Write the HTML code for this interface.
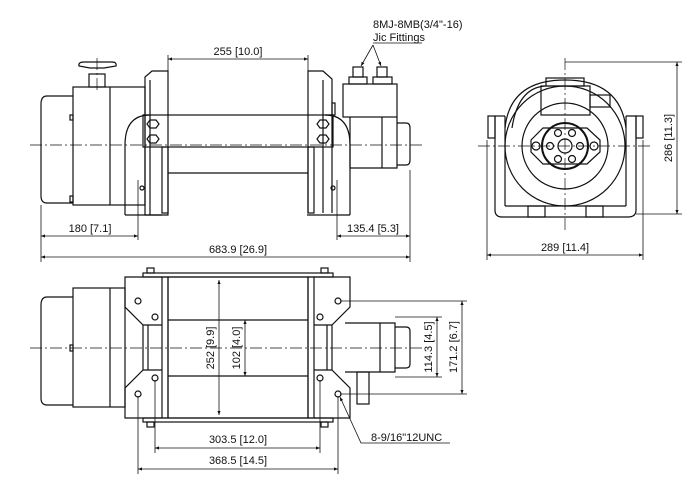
<!DOCTYPE html>
<html><head><meta charset="utf-8"><style>
html,body{margin:0;padding:0;background:#fff;}
svg{display:block;}
text{font-family:"Liberation Sans",Arial,sans-serif;font-size:11px;fill:#111;}
</style></head><body>
<svg width="700" height="495" viewBox="0 0 700 495" xmlns="http://www.w3.org/2000/svg">
<defs>
<marker id="a" viewBox="0 0 10 10" refX="10" refY="5" markerWidth="7" markerHeight="5" orient="auto-start-reverse"><path d="M0,1 L10,5 L0,9 z" fill="#111"/></marker>
</defs>
<g fill="none" stroke="#111" stroke-width="1.2">
<!-- ===== SIDE VIEW ===== -->
<path d="M73,96 L47,96 Q41,96 41,104 L41,196 Q41,203 47,203 L73,203"/>
<rect x="73" y="87" width="72" height="118"/>
<line x1="110" y1="87" x2="110" y2="205"/>
<rect x="70" y="115" width="3" height="5"/><rect x="70" y="196" width="3" height="6"/>
<rect x="89" y="74" width="16" height="13"/>
<path d="M79,66 Q78,62 84,62 L112,62 Q117,62 116,66 L104,68 L90,68 Z"/>
<path d="M145,215 L145,77 L152,71 L168,71 L168,215 Z"/>
<line x1="150" y1="80" x2="150" y2="215"/>
<path d="M308,213 L308,71 L323,71 L332,79 L332,213"/>
<line x1="323" y1="80" x2="323" y2="213"/>
<rect x="332" y="103" width="3" height="12"/>
<line x1="168" y1="173" x2="308" y2="173"/>
<rect x="162" y="147" width="6" height="66"/><rect x="308" y="147" width="6" height="66"/>
<path d="M125,215 L125,145 Q125,115 150,115 L143,115"/>
<path d="M125,215 L162,215"/>
<path d="M350,215 L350,145 Q350,115 325,115 L333,115"/>
<path d="M307,215 L350,215"/>
<rect x="143" y="115" width="190" height="32"/>
<polygon points="147,124 150,120 156,120 159,124 156,128 150,128"/>
<polygon points="147,139 150,135 156,135 159,139 156,143 150,143"/>
<polygon points="317,124 320,120 326,120 329,124 326,128 320,128"/>
<polygon points="317,139 320,135 326,135 329,139 326,143 320,143"/>
<circle cx="142" cy="188" r="2"/><circle cx="333" cy="188" r="2"/>
<rect x="343" y="84" width="54" height="33"/>
<rect x="349" y="77" width="18" height="7"/><rect x="373" y="77" width="19" height="7"/>
<rect x="353" y="67" width="10" height="10"/><rect x="377" y="67" width="10" height="10"/>
<path d="M350,117 L350,168 L397,168 L397,117"/>
<line x1="382" y1="117" x2="382" y2="168"/>
<path d="M397,123 L406,123 Q410,123 410,128 L410,160 Q410,165 406,165 L397,165"/>
<!-- ===== END VIEW ===== -->
<path d="M505,128 Q510,80 565,80 Q620,80 626,128"/>
<path d="M512,128 Q518,88 545,86"/>
<circle cx="565" cy="146" r="60"/>
<circle cx="565" cy="146" r="43"/>
<path d="M531,140 L543,128 L587,128 L600,140 L600,152 L587,164 L543,164 L531,152 Z"/>
<circle cx="565" cy="146" r="23" stroke-width="2"/>
<circle cx="565" cy="146" r="7"/>
<circle cx="536" cy="146" r="4"/><circle cx="594" cy="146" r="4"/>
<circle cx="550" cy="146" r="3.5"/><circle cx="580" cy="146" r="3.5"/>
<circle cx="558" cy="133" r="3.5"/><circle cx="572" cy="133" r="3.5"/>
<circle cx="558" cy="159" r="3.5"/><circle cx="572" cy="159" r="3.5"/>
<rect x="541" y="86" width="49" height="29"/>
<rect x="546" y="78" width="38" height="8"/>
<rect x="590" y="95" width="20" height="12"/>
<rect x="488" y="116" width="7" height="22"/><rect x="636" y="116" width="7" height="22"/>
<path d="M495,116 L495,210 Q495,217 502,217 L628,217 Q636,217 636,210 L636,116 L626,116"/>
<path d="M495,116 L505,116"/>
<line x1="505" y1="116" x2="505" y2="206"/><line x1="626" y1="116" x2="626" y2="206"/>
<line x1="505" y1="206" x2="626" y2="206"/>
<rect x="528" y="206" width="17" height="11"/><rect x="586" y="206" width="17" height="11"/>
<!-- ===== BOTTOM VIEW ===== -->
<path d="M73,297 L47,297 Q41,297 41,305 L41,398 Q41,405 47,405 L73,405"/>
<rect x="73" y="288" width="52" height="119"/>
<line x1="110" y1="288" x2="110" y2="407"/>
<rect x="70" y="345" width="3" height="6"/>
<path d="M162,277 L125,277 L125,307 L143,325 L143,370 L125,388 L125,418 L162,418"/>
<path d="M143,325 L162,325 M143,370 L162,370"/>
<line x1="148" y1="325" x2="148" y2="370"/>
<rect x="162" y="277" width="6" height="141"/>
<rect x="168" y="277" width="140" height="141"/>
<line x1="168" y1="320" x2="308" y2="320"/><line x1="168" y1="376" x2="308" y2="376"/>
<rect x="308" y="277" width="6" height="141"/>
<path d="M314,277 L350,277 L350,307 L332,325 L332,370 L350,388 L350,418 L314,418"/>
<path d="M332,325 L314,325 M332,370 L314,370"/>
<line x1="327" y1="325" x2="327" y2="370"/>
<rect x="143" y="273" width="190" height="4"/><rect x="143" y="418" width="190" height="4"/>
<rect x="147" y="268" width="7" height="5"/><rect x="321" y="268" width="7" height="5"/>
<rect x="147" y="422" width="7" height="5"/><rect x="321" y="422" width="7" height="5"/>
<circle cx="138" cy="301" r="3"/><circle cx="155" cy="317" r="3"/>
<circle cx="138" cy="394" r="3"/><circle cx="155" cy="378" r="3"/>
<circle cx="338" cy="301" r="3"/><circle cx="320" cy="317" r="3"/>
<circle cx="338" cy="394" r="3"/><circle cx="320" cy="378" r="3"/>
<path d="M345,323 L395,323 L395,372 L345,372"/>
<line x1="380" y1="323" x2="380" y2="372"/>
<path d="M395,327 L406,327 Q410,327 410,331 L410,364 Q410,368 406,368 L395,368"/>
<rect x="357" y="372" width="12" height="32"/>
</g>
<g stroke="#111" stroke-width="0.7" stroke-dasharray="12,3,2,3" fill="none">
<line x1="30" y1="145" x2="422" y2="145"/>
<line x1="30" y1="348" x2="422" y2="348"/>
<line x1="478" y1="146" x2="652" y2="146"/>
<line x1="565" y1="58" x2="565" y2="232"/>
<line x1="97" y1="58" x2="97" y2="92"/>
</g>
<g stroke="#111" stroke-width="0.8" fill="none">
<line x1="168" y1="59" x2="308" y2="59" marker-start="url(#a)" marker-end="url(#a)"/>
<line x1="168" y1="55" x2="168" y2="71"/><line x1="308" y1="55" x2="308" y2="71"/>
<line x1="41" y1="205" x2="41" y2="262"/><line x1="410" y1="170" x2="410" y2="262"/>
<line x1="138" y1="180" x2="138" y2="240"/><line x1="337" y1="180" x2="337" y2="240"/>
<line x1="41" y1="236" x2="138" y2="236" marker-start="url(#a)" marker-end="url(#a)"/>
<line x1="337" y1="236" x2="410" y2="236" marker-start="url(#a)" marker-end="url(#a)"/>
<line x1="41" y1="257" x2="410" y2="257" marker-start="url(#a)" marker-end="url(#a)"/>
<line x1="373" y1="43" x2="422" y2="43"/>
<line x1="373" y1="45" x2="361" y2="66" marker-end="url(#a)"/>
<line x1="373" y1="45" x2="381" y2="66" marker-end="url(#a)"/>
<line x1="487" y1="140" x2="487" y2="260"/><line x1="643" y1="140" x2="643" y2="260"/>
<line x1="487" y1="255" x2="643" y2="255" marker-start="url(#a)" marker-end="url(#a)"/>
<line x1="565" y1="62" x2="682" y2="62"/><line x1="636" y1="214" x2="682" y2="214"/>
<line x1="677" y1="62" x2="677" y2="214" marker-start="url(#a)" marker-end="url(#a)"/>
<line x1="219" y1="280" x2="219" y2="415" marker-start="url(#a)" marker-end="url(#a)"/>
<line x1="245" y1="320" x2="245" y2="376" marker-start="url(#a)" marker-end="url(#a)"/>
<line x1="395" y1="317" x2="442" y2="317"/><line x1="395" y1="377" x2="442" y2="377"/>
<line x1="437" y1="317" x2="437" y2="377" marker-start="url(#a)" marker-end="url(#a)"/>
<line x1="340" y1="301" x2="467" y2="301"/><line x1="340" y1="394" x2="467" y2="394"/>
<line x1="462" y1="301" x2="462" y2="394" marker-start="url(#a)" marker-end="url(#a)"/>
<line x1="155" y1="380" x2="155" y2="453"/><line x1="320" y1="380" x2="320" y2="453"/>
<line x1="138" y1="396" x2="138" y2="474"/><line x1="338" y1="396" x2="338" y2="474"/>
<line x1="155" y1="448" x2="320" y2="448" marker-start="url(#a)" marker-end="url(#a)"/>
<line x1="138" y1="469" x2="338" y2="469" marker-start="url(#a)" marker-end="url(#a)"/>
<polyline points="450,443 361,443 340,397" marker-end="url(#a)"/>
</g>
<text x="238" y="55" text-anchor="middle">255 [10.0]</text>
<text x="373" y="28">8MJ-8MB(3/4"-16)</text>
<text x="373" y="41">Jic Fittings</text>
<text x="90" y="232" text-anchor="middle">180 [7.1]</text>
<text x="373" y="232" text-anchor="middle">135.4 [5.3]</text>
<text x="238" y="253" text-anchor="middle">683.9 [26.9]</text>
<text x="565" y="251" text-anchor="middle">289 [11.4]</text>
<text transform="translate(672,138) rotate(-90)" text-anchor="middle">286 [11.3]</text>
<text transform="translate(214,348) rotate(-90)" text-anchor="middle">252 [9.9]</text>
<text transform="translate(240,348) rotate(-90)" text-anchor="middle">102 [4.0]</text>
<text transform="translate(432,347) rotate(-90)" text-anchor="middle">114.3 [4.5]</text>
<text transform="translate(457,347) rotate(-90)" text-anchor="middle">171.2 [6.7]</text>
<text x="238" y="443" text-anchor="middle">303.5 [12.0]</text>
<text x="238" y="464" text-anchor="middle">368.5 [14.5]</text>
<text x="371" y="441">8-9/16"12UNC</text>
</svg>
</body></html>
